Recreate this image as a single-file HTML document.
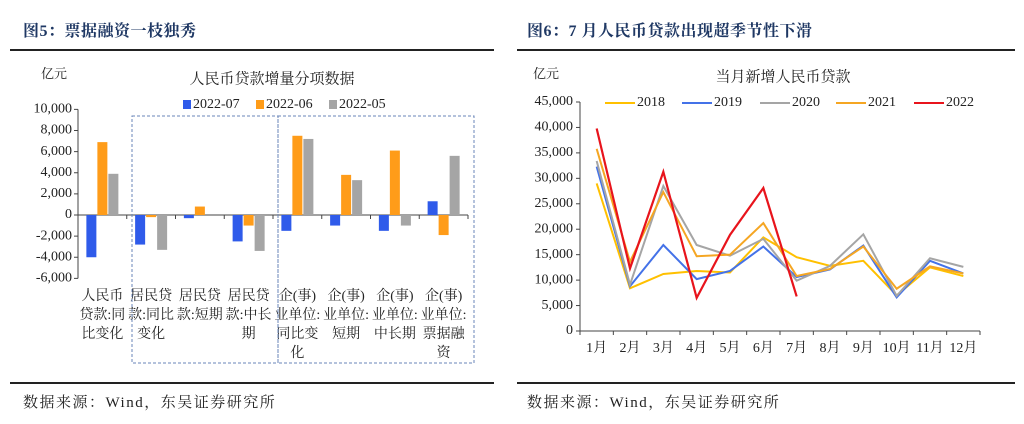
<!DOCTYPE html>
<html><head><meta charset="utf-8"><style>
body{margin:0;width:1024px;height:424px;background:#fff;overflow:hidden;position:relative;font-family:"Liberation Serif","Noto Serif CJK SC",serif}
.t{position:absolute;font-size:16px;font-weight:bold;color:#1f3864;top:18px;letter-spacing:0.5px}
.hl{position:absolute;height:2px;background:#222;top:49px}
.fl{position:absolute;height:2px;background:#222;top:382px}
.f{position:absolute;top:391px;font-size:15px;color:#222;letter-spacing:1.5px}
svg{position:absolute;left:0;top:0}
</style></head><body>
<div class="t" style="left:23px">图5：票据融资一枝独秀</div>
<div class="t" style="left:527px">图6：7 月人民币贷款出现超季节性下滑</div>
<div class="hl" style="left:10px;width:484px"></div>
<div class="hl" style="left:517px;width:498px"></div>
<div class="fl" style="left:10px;width:484px"></div>
<div class="fl" style="left:517px;width:498px"></div>
<div class="f" style="left:23px">数据来源：Wind，东吴证券研究所</div>
<div class="f" style="left:527px">数据来源：Wind，东吴证券研究所</div>
<svg id="s" width="1024" height="424"></svg>
<script>
const barCats=[["人民币","贷款:同","比变化"],["居民贷","款:同比","变化"],["居民贷","款:短期",""],["居民贷","款:中长","期"],["企(事)","业单位:","同比变","化"],["企(事)","业单位:","短期"],["企(事)","业单位:","中长期"],["企(事)","业单位:","票据融","资"]];
const barSeriesNames=["2022-07","2022-06","2022-05"];
const s07=[-4000,-2800,-300,-2500,-1500,-1000,-1500,1300];
const s06=[6900,-200,800,-1000,7500,3800,6100,-1900];
const s05=[3900,-3300,0,-3400,7200,3300,-1000,5600];
const barTicks=[10000,8000,6000,4000,2000,0,-2000,-4000,-6000];
const months=["1月","2月","3月","4月","5月","6月","7月","8月","9月","10月","11月","12月"];
const lineNames=["2018","2019","2020","2021","2022"];
const y2018=[29000,8400,11200,11800,11500,18400,14500,12800,13800,7000,12500,10800];
const y2019=[32300,8800,16900,10200,11800,16600,10600,12100,16800,6600,13800,11300];
const y2020=[33400,9100,28500,16900,14800,18100,9900,12800,19000,6900,14300,12600];
const y2021=[35800,13600,27300,14700,15000,21200,10800,12200,16600,8300,12700,11300];
const y2022=[39800,12300,31300,6500,18900,28100,6800];
const lineTicks=[45000,40000,35000,30000,25000,20000,15000,10000,5000,0];

const S=document.getElementById('s');const NS='http://www.w3.org/2000/svg';
function mk(t,a,p){const e=document.createElementNS(NS,t);for(const k in a)e.setAttribute(k,a[k]);(p||S).appendChild(e);return e;}
function tx(x,y,s,sz,anc,fill){const e=mk('text',{x:x,y:y,'font-size':sz,'text-anchor':anc||'middle',fill:fill||'#222','dominant-baseline':'middle'});e.textContent=s;return e;}

// LEFT
const L0=78,L1=468,bw=(L1-L0)/8;
const by=v=>215-v*(279-110)/16000;
const ls=[s07,s06,s05],lc=['#2f5bea','#ff9c19','#a5a5a5'];
let e;
e=tx(54,75,'亿元',13);
e=tx(272,80,'人民币贷款增量分项数据',15);
[183,256,329].forEach((x,i)=>{
 e=mk('rect',{x:x,y:100,width:8,height:9,fill:lc[i]});
 e=tx(x+10,105,barSeriesNames[i],14,'start');
});
barTicks.forEach(v=>{e=tx(L0-6,by(v),v.toLocaleString('en-US'),14,'end');
 mk('line',{x1:L0-4,x2:L0,y1:by(v),y2:by(v),stroke:'#444'});});
e=mk('line',{x1:L0,x2:L0,y1:by(10000),y2:by(-6000),stroke:'#444'});
e=mk('line',{x1:L0,x2:L1,y1:by(0),y2:by(0),stroke:'#444'});
for(let i=0;i<=8;i++)mk('line',{x1:L0+i*bw,x2:L0+i*bw,y1:by(0),y2:by(0)+4,stroke:'#444'});
barCats.forEach((c,i)=>{const cx=L0+(i+0.5)*bw;
 ls.forEach((s,j)=>{const v=s[i];const x=cx-16+j*11;
  e=mk('rect',{x:x,y:Math.min(by(v),by(0)),width:10,height:Math.abs(by(v)-by(0)),fill:lc[j]});
  });
 c.forEach((l,k)=>{if(l){e=tx(cx,297+k*19,l,14);}});
});
e=mk('rect',{x:132,y:116,width:146,height:247,fill:'none',stroke:'#6a86b8','stroke-dasharray':'3,2'});
e=mk('rect',{x:278,y:116,width:196,height:247,fill:'none',stroke:'#6a86b8','stroke-dasharray':'3,2'});

// RIGHT
const R0=580,R1=980,mw=(R1-R0)/12;
const ry=v=>331-v*(331-102)/45000;const rx=i=>R0+(i+0.5)*mw;
const lines=[y2018,y2019,y2020,y2021,y2022],cc=['#ffc000','#4472e8','#a5a5a5','#f5a623','#e8141c'];
e=tx(546,75,'亿元',13);
e=tx(783,78,'当月新增人民币贷款',15);
lineTicks.forEach(v=>{e=tx(R0-7,ry(v),v.toLocaleString('en-US'),14,'end');
 mk('line',{x1:R0-4,x2:R0,y1:ry(v),y2:ry(v),stroke:'#444'});});
e=mk('line',{x1:R0,x2:R0,y1:ry(45000),y2:ry(0),stroke:'#444'});
e=mk('line',{x1:R0,x2:R1,y1:ry(0),y2:ry(0),stroke:'#444'});
for(let i=0;i<=12;i++)mk('line',{x1:R0+i*mw,x2:R0+i*mw,y1:ry(0),y2:ry(0)+4,stroke:'#444'});
months.forEach((m,i)=>{e=tx(rx(i),349,m,14);});
lines.forEach((d,j)=>{
 e=mk('polyline',{points:d.map((v,i)=>rx(i)+','+ry(v)).join(' '),fill:'none',stroke:cc[j],'stroke-width':j==4?2.2:2});
 
 const lx=[605,682,760,836,914][j];
 e=mk('line',{x1:lx,x2:lx+30,y1:103,y2:103,stroke:cc[j],'stroke-width':2});
 e=tx(lx+32,103,lineNames[j],14,'start');
});
</script>
</body></html>
